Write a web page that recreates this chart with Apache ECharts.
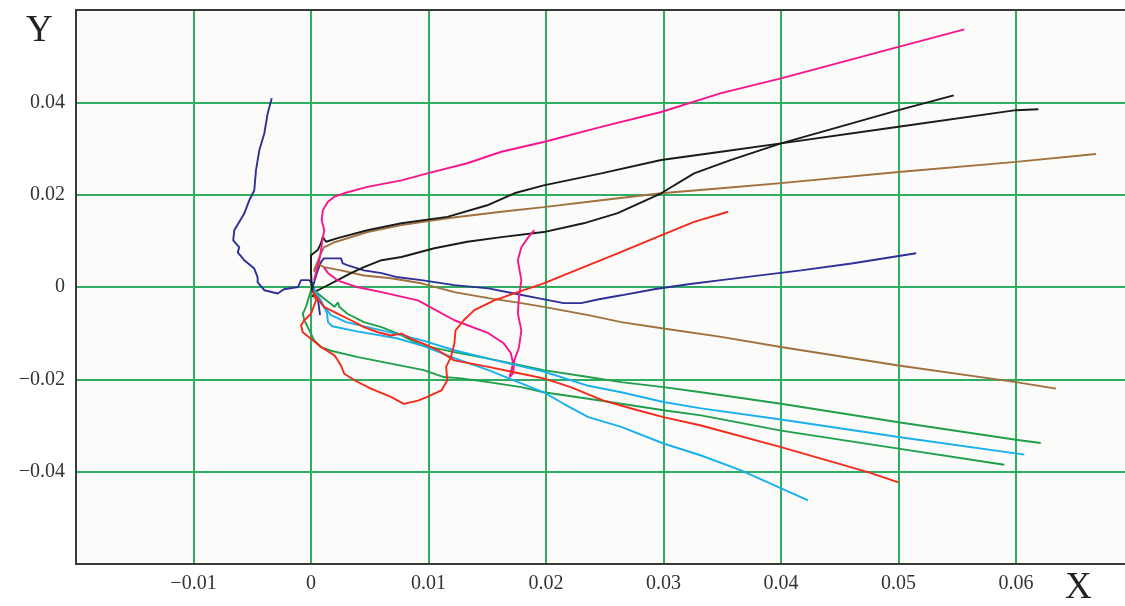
<!DOCTYPE html>
<html>
<head>
<meta charset="utf-8">
<script src="https://cdn.jsdelivr.net/npm/echarts@6/dist/echarts.min.js"></script>
<style>
html,body{margin:0;padding:0;background:#fff;overflow:hidden;}
#chart{width:1125px;height:606px;}
</style>
</head>
<body>
<div id="chart"></div>
<script>
// Axis ticks
const xTicks = [-0.01, 0, 0.01, 0.02, 0.03, 0.04, 0.05, 0.06];
const yTicks = [-0.04, -0.02, 0, 0.02, 0.04];

// Trajectories [x, y]
const navyLeft = [
  [0.00017,0.0006],[-0.00017,0.0015],[-0.00085,0.0015],[-0.0011,0.0000],[-0.0023,-0.0005],
  [-0.00283,-0.0014],[-0.00397,-0.0007],[-0.00454,0.0010],[-0.00454,0.0021],[-0.00483,0.0040],
  [-0.00568,0.0058],[-0.00624,0.0075],[-0.0061,0.0086],[-0.00662,0.0101],[-0.00653,0.0123],
  [-0.00568,0.0159],[-0.00525,0.0188],[-0.00483,0.0209],[-0.00468,0.0253],[-0.0044,0.0296],
  [-0.00397,0.0333],[-0.00369,0.0376],[-0.00334,0.0409]
];
const navyRight = [
  [0.00077,-0.0061],[0.0006,-0.0029],[0.00017,0.0002],[0.00057,0.0036],[0.00085,0.0054],
  [0.0011,0.0062],[0.0017,0.0062],[0.00255,0.0062],[0.0027,0.0051],[0.00315,0.0047],
  [0.0045,0.0036],[0.006,0.003],[0.0074,0.0021],[0.0094,0.0015],[0.0122,0.0004],
  [0.0151,-0.0003],[0.0173,-0.0014],[0.0193,-0.0024],[0.0215,-0.0035],[0.023,-0.0035],
  [0.0244,-0.0027],[0.0264,-0.0018],[0.0292,-0.0005],[0.0321,0.0006],[0.0349,0.0015],
  [0.0417,0.0036],[0.046,0.0051],[0.0515,0.0073]
];
const pinkUpper = [
  [0.00026,0.0015],[0.00068,0.0054],[0.00085,0.008],[0.001,0.0106],[0.00113,0.0123],
  [0.00091,0.0145],[0.001,0.0166],[0.00142,0.0184],[0.00196,0.0195],[0.0028,0.0203],
  [0.0048,0.0217],[0.0077,0.0231],[0.0099,0.0246],[0.0133,0.0268],[0.0162,0.0293],
  [0.0198,0.0314],[0.0247,0.0347],[0.0298,0.0379],[0.0349,0.042],[0.04,0.0452],
  [0.05,0.052],[0.0556,0.0558]
];
const pinkLower = [
  [0.0011,0.0043],[0.00145,0.003],[0.0023,0.0014],[0.004,-0.00006],[0.006,-0.0011],
  [0.0091,-0.0029],[0.0122,-0.0072],[0.0151,-0.01],[0.0164,-0.0122],[0.017,-0.0143],
  [0.0172,-0.0165],[0.0169,-0.0195],[0.0172,-0.0187],[0.0173,-0.0159],[0.0177,-0.0131],
  [0.0179,-0.0094],[0.0176,-0.0057],[0.0177,-0.0022],[0.0179,0.0015],[0.0176,0.0058],
  [0.0179,0.0086],[0.0185,0.0108],[0.019,0.0123]
];
const blackUpper = [
  [0.0001,-0.0012],[0,0.0032],[0,0.0069],[0.00057,0.008],[0.00085,0.0095],[0.001,0.0108],
  [0.00128,0.0098],[0.00227,0.0106],[0.0048,0.0123],[0.0077,0.0138],[0.0116,0.0152],
  [0.015,0.0177],[0.0173,0.0203],[0.0198,0.022],[0.0247,0.0246],[0.0298,0.0275],
  [0.0349,0.0293],[0.04,0.0311],[0.05,0.0347],[0.06,0.0383],[0.0619,0.0385]
];
const blackLower = [
  [0.00014,-0.0022],[0.00028,-0.0011],[0.00113,0.0000],[0.00227,0.0015],[0.0034,0.003],
  [0.0045,0.0043],[0.006,0.0058],[0.0077,0.0065],[0.0105,0.0084],[0.0133,0.0098],
  [0.0162,0.0108],[0.0198,0.0119],[0.0232,0.0138],[0.0261,0.016],[0.0298,0.0203],
  [0.0326,0.0246],[0.0357,0.0275],[0.04,0.0311],[0.05,0.0383],[0.0547,0.0415]
];
const brownUpper = [
  [0.00026,0.0036],[0.00085,0.0073],[0.0011,0.0086],[0.002,0.0097],[0.0048,0.0119],
  [0.0077,0.0134],[0.0116,0.0149],[0.0162,0.0163],[0.0198,0.0173],[0.0247,0.0188],
  [0.0298,0.0203],[0.0349,0.0214],[0.04,0.0225],[0.05,0.0249],[0.06,0.0271],[0.0668,0.0288]
];
const brownLower = [
  [0.00026,0.0032],[0.00057,0.0051],[0.0011,0.0043],[0.00255,0.0036],[0.0045,0.0025],
  [0.0068,0.0019],[0.0094,0.0008],[0.0122,-0.0011],[0.0151,-0.0024],[0.0179,-0.0035],
  [0.0198,-0.0043],[0.0236,-0.0061],[0.0264,-0.0076],[0.03,-0.009],[0.0349,-0.0108],
  [0.04,-0.013],[0.05,-0.017],[0.06,-0.0206],[0.0634,-0.022]
];
const redLoop = [
  [0.00017,-0.0007],[0.00043,-0.0029],[0,-0.0058],[-0.00057,-0.0072],[-0.00085,-0.0083],
  [-0.0007,-0.0098],[0,-0.0112],[0.00085,-0.013],[0.002,-0.0148],[0.00255,-0.017],
  [0.00283,-0.0188],[0.0037,-0.0202],[0.0051,-0.022],[0.0068,-0.0238],[0.0079,-0.0253],
  [0.0091,-0.0246],[0.0099,-0.0238],[0.0111,-0.0224],[0.0116,-0.0202],[0.0115,-0.0173],
  [0.0119,-0.0152],[0.0122,-0.0123],[0.0123,-0.0094],[0.013,-0.0072],[0.0139,-0.005],
  [0.0156,-0.0029],[0.0176,-0.0011],[0.0198,0.0008],[0.0232,0.0043],[0.0261,0.0073],
  [0.0298,0.0112],[0.0326,0.0141],[0.0355,0.0163]
];
const redLong = [
  [0.00017,-0.0011],[0.0011,-0.0043],[0.0023,-0.0058],[0.0034,-0.0072],[0.0045,-0.0087],
  [0.0057,-0.0098],[0.0068,-0.0105],[0.0077,-0.0101],[0.0085,-0.0112],[0.0096,-0.0123],
  [0.0108,-0.0137],[0.0122,-0.0159],[0.0151,-0.0173],[0.0179,-0.0188],[0.0198,-0.0198],
  [0.0221,-0.0217],[0.0249,-0.0246],[0.0278,-0.0267],[0.03,-0.0282],[0.0332,-0.03],
  [0.04,-0.0347],[0.0474,-0.0401],[0.05,-0.0423]
];
const greenLower = [
  [0,-0.0007],[-0.00026,-0.0029],[-0.00043,-0.0043],[-0.0007,-0.0058],[-0.00057,-0.0072],
  [-0.00014,-0.0094],[0.00028,-0.0116],[0.00085,-0.013],[0.0017,-0.0138],[0.004,-0.0152],
  [0.0068,-0.0166],[0.0096,-0.018],[0.0113,-0.0195],[0.0128,-0.0198],[0.0151,-0.0206],
  [0.0179,-0.0217],[0.0198,-0.0228],[0.0236,-0.0242],[0.0264,-0.0253],[0.03,-0.0267],
  [0.0332,-0.0278],[0.04,-0.0311],[0.05,-0.035],[0.059,-0.0385]
];
const greenUpper = [
  [0.00026,-0.0007],[0.0011,-0.0025],[0.002,-0.0043],[0.0023,-0.0033],[0.0024,-0.0043],
  [0.0031,-0.0058],[0.0045,-0.0076],[0.006,-0.0087],[0.0074,-0.0101],[0.0094,-0.0126],
  [0.0122,-0.0141],[0.0151,-0.0155],[0.0179,-0.017],[0.0198,-0.018],[0.0236,-0.0195],
  [0.0264,-0.0206],[0.03,-0.0217],[0.0332,-0.0228],[0.04,-0.0253],[0.05,-0.0293],
  [0.06,-0.0331],[0.0621,-0.0338]
];
const cyanLong = [
  [0.00026,-0.0003],[0.00068,-0.0029],[0.0017,-0.0061],[0.003,-0.0076],[0.006,-0.0094],
  [0.0094,-0.0115],[0.0122,-0.0137],[0.0151,-0.0155],[0.0179,-0.0172],[0.0198,-0.0183],
  [0.0236,-0.0214],[0.0264,-0.0228],[0.03,-0.0249],[0.0332,-0.0263],[0.04,-0.0287],
  [0.05,-0.0325],[0.0607,-0.0363]
];
const cyanSteep = [
  [0.00026,-0.0007],[0.00085,-0.0029],[0.00136,-0.0057],[0.00145,-0.0076],[0.0018,-0.0085],
  [0.0039,-0.0096],[0.0073,-0.0111],[0.0096,-0.0128],[0.0122,-0.0154],[0.0151,-0.018],
  [0.0179,-0.0209],[0.0198,-0.0228],[0.0215,-0.0253],[0.0236,-0.0282],[0.0264,-0.0303],
  [0.03,-0.0339],[0.0332,-0.0365],[0.0366,-0.0397],[0.0423,-0.0462]
];

const NAVY = '#2f2f98', PINK = '#f5168f', BLACK = '#1a1a1a', BROWN = '#a0713f',
      RED = '#f32a1c', GREEN = '#1f9f4c', CYAN = '#19b0ee';

const seriesDefs = [
  [navyLeft, NAVY], [navyRight, NAVY],
  [brownUpper, BROWN], [brownLower, BROWN],
  [blackUpper, BLACK], [blackLower, BLACK],
  [pinkUpper, PINK], [pinkLower, PINK],
  [greenLower, GREEN], [greenUpper, GREEN],
  [cyanLong, CYAN], [cyanSteep, CYAN],
  [redLoop, RED], [redLong, RED]
];

function fmt(v) {
  const r = Math.round(v * 100) / 100;
  if (Math.abs(r) < 1e-9) return '0';
  return r.toFixed(2).replace('-', '\u2212');
}
function tickLabel(list) {
  return function (v) {
    const r = Math.round(v * 100) / 100;
    return list.some(t => Math.abs(t - r) < 1e-9) ? fmt(r) : '';
  };
}

const AXIS_COLOR = '#3a3a3a';
const GRID_GREEN = '#2fae62';
const labelFont = {fontFamily: 'Liberation Serif', fontSize: 20, color: '#333'};
const X_MAX = 0.06953;

const chart = echarts.init(document.getElementById('chart'), null, {renderer: 'canvas'});
chart.setOption({
  animation: false,
  backgroundColor: '#ffffff',
  grid: {
    left: 76, top: 10, right: -3, bottom: 42,
    outerBoundsMode: 'none',
    show: true, backgroundColor: '#fbfbf9', borderWidth: 0
  },
  xAxis: [{
    type: 'value', min: -0.02, max: X_MAX, interval: 0.01,
    axisLine: {show: true, onZero: false, lineStyle: {color: AXIS_COLOR, width: 2}},
    axisTick: {show: false},
    splitLine: {show: true, lineStyle: {color: GRID_GREEN, width: 2}},
    axisLabel: Object.assign({formatter: tickLabel(xTicks), margin: 10, showMaxLabel: false}, labelFont)
  }, {
    type: 'value', position: 'top', min: -0.02, max: X_MAX,
    axisLine: {show: true, onZero: false, lineStyle: {color: AXIS_COLOR, width: 2}},
    axisTick: {show: false}, axisLabel: {show: false}, splitLine: {show: false}
  }],
  yAxis: {
    type: 'value', min: -0.06, max: 0.06, interval: 0.02,
    axisLine: {show: true, onZero: false, lineStyle: {color: AXIS_COLOR, width: 2}},
    axisTick: {show: false},
    splitLine: {show: true, lineStyle: {color: GRID_GREEN, width: 2}},
    axisLabel: Object.assign({formatter: tickLabel(yTicks), margin: 11}, labelFont)
  },
  graphic: [
    {type: 'text', left: 26, top: 13, style: {text: 'Y', font: '37px "Liberation Serif"', fill: '#222'}},
    {type: 'text', left: 1065, top: 570, style: {text: 'X', font: '37px "Liberation Serif"', fill: '#222'}}
  ],
  series: seriesDefs.map(([data, color]) => ({
    type: 'line', data: data, showSymbol: false, symbol: 'none',
    lineStyle: {color: color, width: 1.9}, itemStyle: {color: color},
    clip: true, silent: true
  }))
});
</script>
</body>
</html>
